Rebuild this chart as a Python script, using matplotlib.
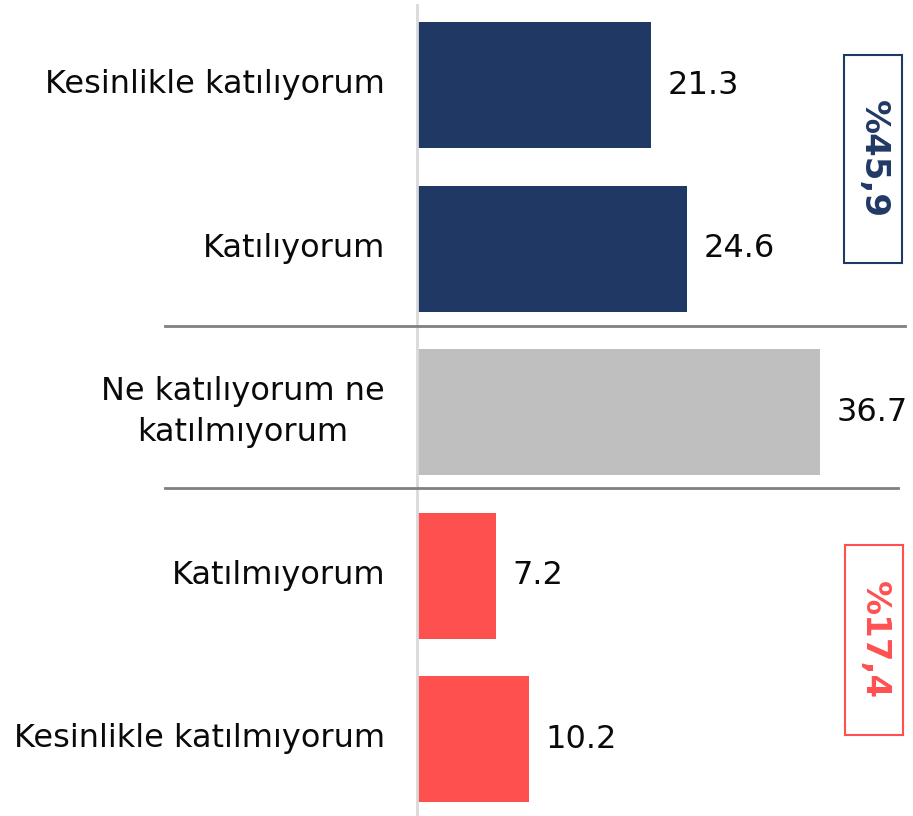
import matplotlib
matplotlib.use('Agg')
import matplotlib.pyplot as plt
from matplotlib.lines import Line2D
from matplotlib.patches import Rectangle

categories = ['Kesinlikle katılıyorum', 'Katılıyorum',
              'Ne katılıyorum ne\nkatılmıyorum',
              'Katılmıyorum', 'Kesinlikle katılmıyorum']
values = [21.3, 24.6, 36.7, 7.2, 10.2]
colors = ['#203864', '#203864', '#bfbfbf', '#ff5050', '#ff5050']
group_labels = ['%45,9', '%17,4']
group_colors = ['#203864', '#ff5050']

W, H = 913, 816
fig = plt.figure(figsize=(W / 100, H / 100), dpi=100)
plt.rcParams['font.family'] = ['DejaVu Sans']

# axes start at the vertical baseline, span whole height
ax = fig.add_axes([417 / W, 0, 1 - 417 / W, 1])
ypos = list(range(len(values)))
ax.barh(ypos, values, height=0.77, color=colors)
ax.set_xlim(0, (W - 417) / 10.98)
ax.set_ylim(4.47, -0.52)
ax.axis('off')

for y, v in zip(ypos, values):
    ax.text(v + 1.5, y, f'{v:.1f}', va='center', ha='left', fontsize=23, color='#0a0a0a')

for y, c in zip(ypos, categories):
    fig.text(385 / W, 1 - (85 + y * 163.5) / H, c, ha='right', va='center',
             multialignment='center', fontsize=23, linespacing=1.4, color='#0a0a0a')

# vertical axis line
fig.add_artist(Line2D([417 / W, 417 / W], [0, 1 - 5 / H], color='#d9d9d9', lw=2))
# separators between groups
fig.add_artist(Line2D([165 / W, 905 / W], [1 - 326 / H] * 2, color='#808080', lw=2))
fig.add_artist(Line2D([165 / W, 898 / W], [1 - 488 / H] * 2, color='#808080', lw=2))

# summary boxes
boxes = [(844, 55, 58, 208), (845, 545, 58, 190)]
for (bx, by, bw, bh), lab, col in zip(boxes, group_labels, group_colors):
    fig.add_artist(Rectangle((bx / W, 1 - (by + bh) / H), bw / W, bh / H,
                             fill=False, edgecolor=col, lw=1.5))
    fig.text((bx + bw / 2) / W, 1 - (by + bh / 2) / H, lab, rotation=-90,
             ha='center', va='center', fontsize=24.5, fontweight='bold', color=col)

fig.savefig('out.png', dpi=100, facecolor='white')
